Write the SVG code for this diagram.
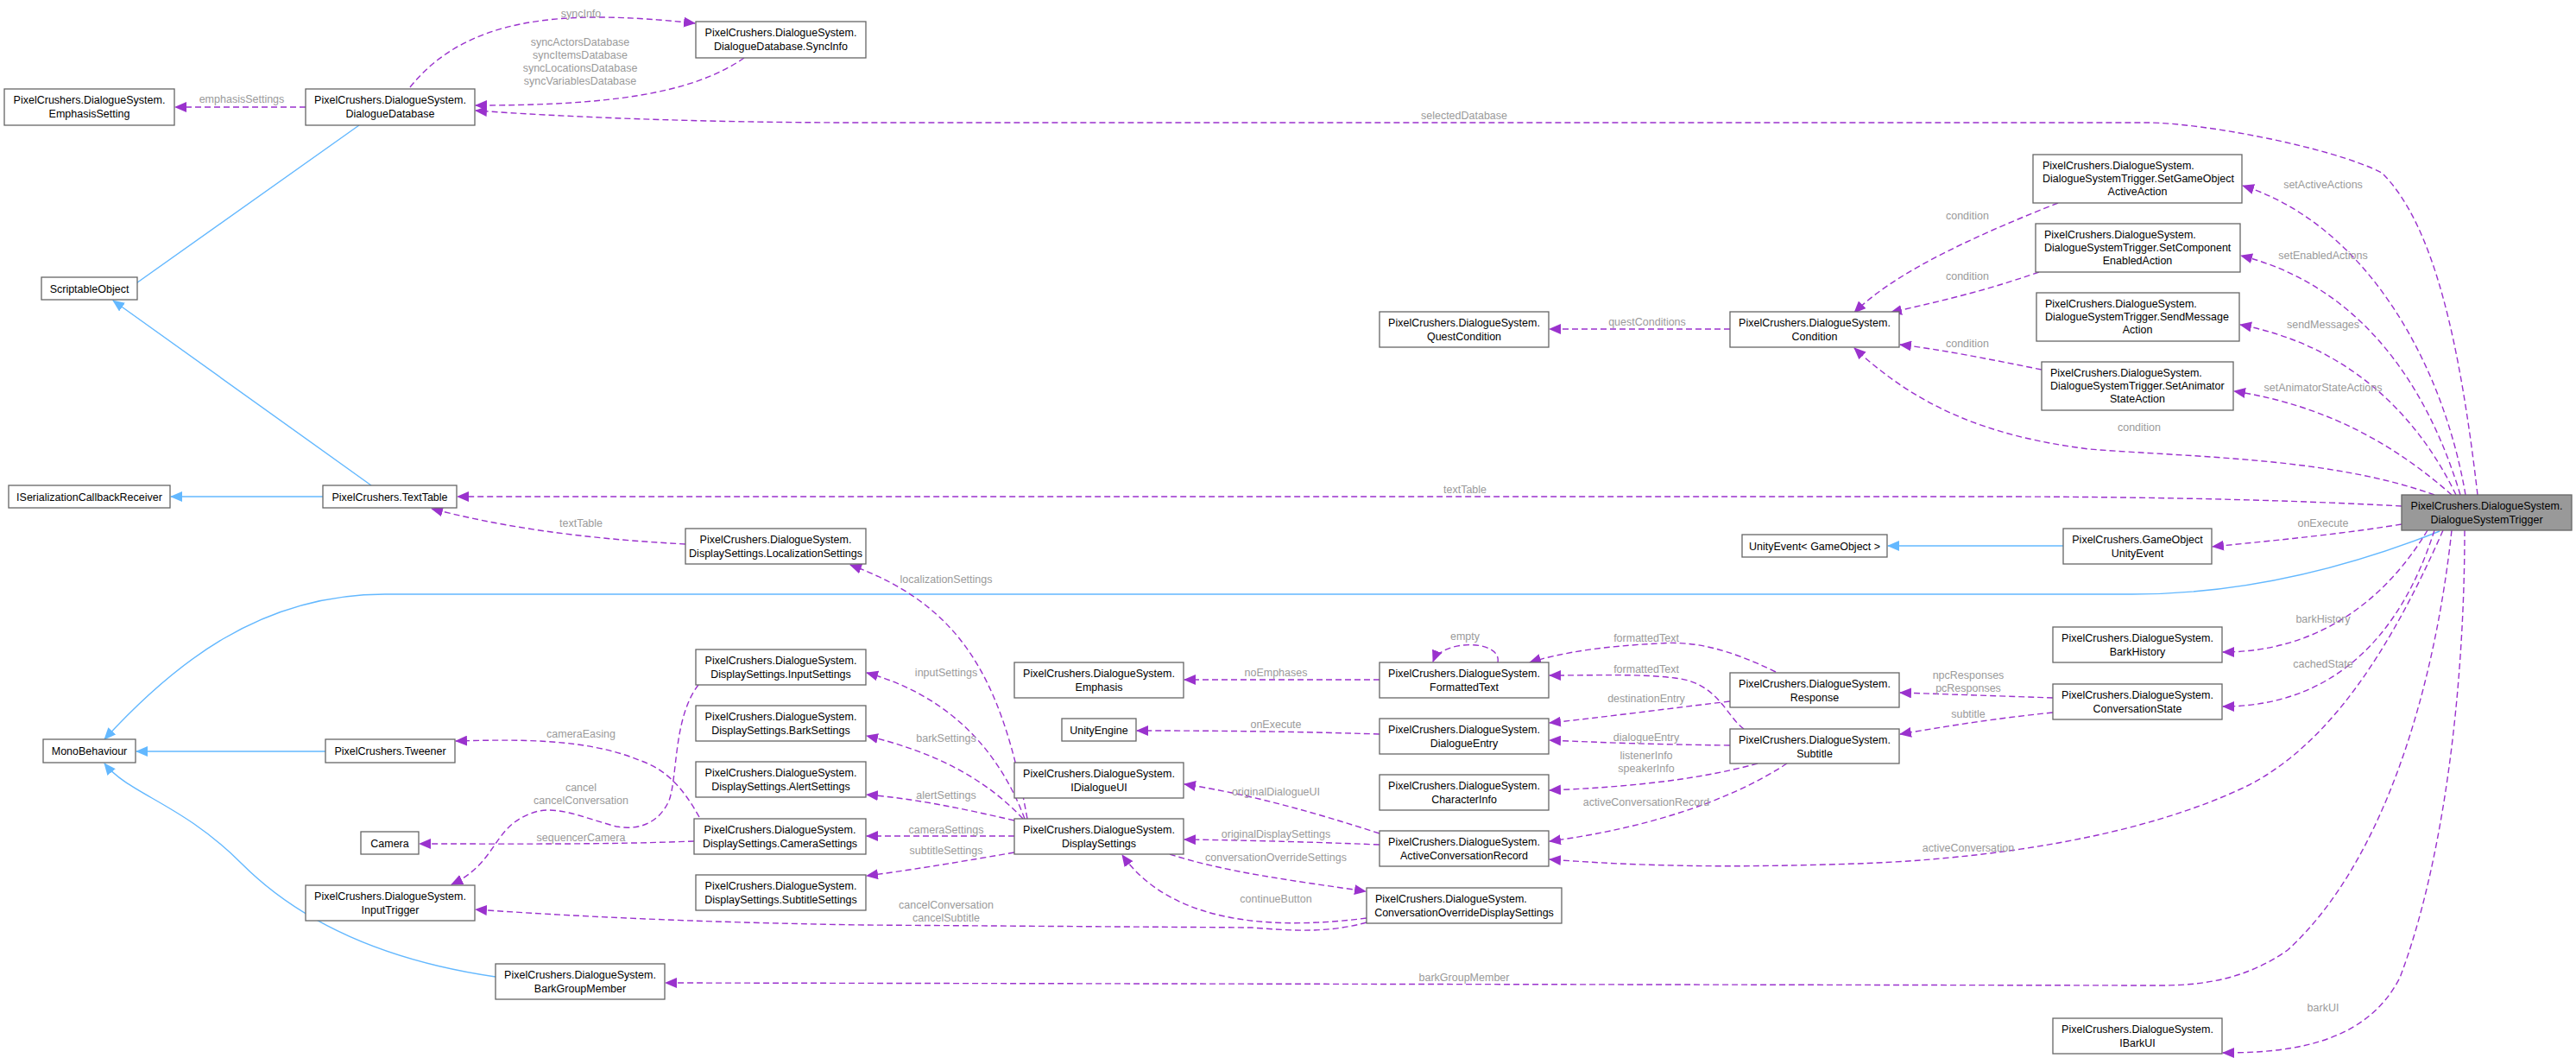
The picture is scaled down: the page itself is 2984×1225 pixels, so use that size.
<svg xmlns="http://www.w3.org/2000/svg" width="2984" height="1225" viewBox="0 0 2984 1225">
<style>
.n rect{fill:#fff;stroke:#666;stroke-width:1.3}
.n text{font-family:"Liberation Sans",Arial,sans-serif;font-size:12.5px;fill:#000}
.c{text-anchor:middle}
.e{fill:none;stroke:#9a32cd;stroke-width:1.4;stroke-dasharray:7,4}
.i{fill:none;stroke:#63b8ff;stroke-width:1.4}
.l{font-family:"Liberation Sans",Arial,sans-serif;font-size:12.5px;fill:#9a9a9a;text-anchor:middle}
</style>
<defs>
<marker id="p" markerWidth="14" markerHeight="12" refX="13" refY="6" orient="auto" markerUnits="userSpaceOnUse"><path d="M0,0 L14,6 L0,12 z" fill="#9a32cd"/></marker>
<marker id="b" markerWidth="14" markerHeight="12" refX="13" refY="6" orient="auto" markerUnits="userSpaceOnUse"><path d="M0,0 L14,6 L0,12 z" fill="#63b8ff"/></marker>
</defs>
<rect width="2984" height="1225" fill="#fff"/>
<g id="edges">
<path class="i" marker-end="url(#b)" d="M416,145 L131,347"/>
<path class="i" marker-end="url(#b)" d="M430,562 L131,348"/>
<path class="i" marker-end="url(#b)" d="M374,575 L198,575"/>
<path class="i" marker-end="url(#b)" d="M377,870 L158,870"/>
<path class="i" marker-end="url(#b)" d="M574,1131 C430,1110 340,1060 280,1000 C210,930 150,920 121,884"/>
<path class="i" marker-end="url(#b)" d="M2826,615 C2700,665 2580,688 2470,688 L446,688 C300,688 200,770 121,856"/>
<path class="i" marker-end="url(#b)" d="M2390,632 L2187,632"/>

<path class="e" marker-end="url(#p)" d="M354,124 L203,124"/>
<text class="l" x="280" y="119">emphasisSettings</text>
<path class="e" marker-end="url(#p)" d="M475,101 C540,20 650,10 805,27"/>
<text class="l" x="673" y="20">syncInfo</text>
<path class="e" marker-end="url(#p)" d="M862,67 C800,110 700,122 551,122"/>
<text class="l" x="672" y="53">syncActorsDatabase</text>
<text class="l" x="672" y="68">syncItemsDatabase</text>
<text class="l" x="672" y="83">syncLocationsDatabase</text>
<text class="l" x="672" y="98">syncVariablesDatabase</text>
<path class="e" marker-end="url(#p)" d="M2870,573 C2850,400 2820,260 2759,200 C2700,170 2550,142 2487,142 L1000,142 C800,142 650,135 551,128"/>
<text class="l" x="1696" y="138">selectedDatabase</text>
<path class="e" marker-end="url(#p)" d="M2856,573 C2830,420 2740,260 2598,215"/>
<text class="l" x="2691" y="218">setActiveActions</text>
<path class="e" marker-end="url(#p)" d="M2850,573 C2810,440 2730,330 2596,296"/>
<text class="l" x="2691" y="300">setEnabledActions</text>
<path class="e" marker-end="url(#p)" d="M2845,573 C2800,480 2720,400 2595,376"/>
<text class="l" x="2691" y="380">sendMessages</text>
<path class="e" marker-end="url(#p)" d="M2840,573 C2780,520 2700,470 2588,453"/>
<text class="l" x="2691" y="453">setAnimatorStateActions</text>
<path class="e" marker-end="url(#p)" d="M2820,573 C2700,530 2550,530 2420,520 C2300,505 2220,470 2148,403"/>
<text class="l" x="2478" y="499">condition</text>
<path class="e" marker-end="url(#p)" d="M2384,235 C2270,280 2190,320 2148,362"/>
<text class="l" x="2279" y="254">condition</text>
<path class="e" marker-end="url(#p)" d="M2362,315 C2290,340 2240,350 2190,362"/>
<text class="l" x="2279" y="324">condition</text>
<path class="e" marker-end="url(#p)" d="M2365,428 C2300,415 2250,405 2201,399"/>
<text class="l" x="2279" y="402">condition</text>
<path class="e" marker-end="url(#p)" d="M2004,381 L1795,381"/>
<text class="l" x="1908" y="377">questConditions</text>
<path class="e" marker-end="url(#p)" d="M2782,586 C2600,576 2400,575 2300,575 L530,575"/>
<text class="l" x="1697" y="571">textTable</text>
<path class="e" marker-end="url(#p)" d="M794,630 C700,625 600,615 500,589"/>
<text class="l" x="673" y="610">textTable</text>
<path class="e" marker-end="url(#p)" d="M2782,607 C2700,620 2640,625 2563,633"/>
<text class="l" x="2691" y="610">onExecute</text>
<path class="e" marker-end="url(#p)" d="M1190,948 C1160,780 1110,700 985,654"/>
<text class="l" x="1096" y="675">localizationSettings</text>
<path class="e" marker-end="url(#p)" d="M1187,948 C1150,850 1080,800 1004,779"/>
<text class="l" x="1096" y="783">inputSettings</text>
<path class="e" marker-end="url(#p)" d="M1185,948 C1140,900 1080,870 1004,852"/>
<text class="l" x="1096" y="859">barkSettings</text>
<path class="e" marker-end="url(#p)" d="M1175,950 C1110,935 1060,925 1004,920"/>
<text class="l" x="1096" y="925">alertSettings</text>
<path class="e" marker-end="url(#p)" d="M1175,968 L1004,968"/>
<text class="l" x="1096" y="965">cameraSettings</text>
<path class="e" marker-end="url(#p)" d="M1175,987 C1100,1000 1050,1008 1004,1014"/>
<text class="l" x="1096" y="989">subtitleSettings</text>
<path class="e" marker-end="url(#p)" d="M810,946 C790,910 770,890 740,880 C680,855 600,856 528,858"/>
<text class="l" x="673" y="854">cameraEasing</text>
<path class="e" marker-end="url(#p)" d="M804,974 C700,978 600,977 486,977"/>
<text class="l" x="673" y="974">sequencerCamera</text>
<path class="e" marker-end="url(#p)" d="M809,793 C780,830 785,900 775,927 C760,960 730,960 714,957 C670,945 640,930 612,943 C570,960 575,1000 523,1024"/>
<text class="l" x="673" y="916">cancel</text>
<text class="l" x="673" y="931">cancelConversation</text>
<path class="e" marker-end="url(#p)" d="M1583,1068 C1540,1080 1500,1078 1450,1074 L1000,1071 C800,1068 650,1060 551,1053"/>
<text class="l" x="1096" y="1052">cancelConversation</text>
<text class="l" x="1096" y="1067">cancelSubtitle</text>
<path class="e" marker-end="url(#p)" d="M1598,965 C1520,940 1450,920 1372,908"/>
<text class="l" x="1478" y="921">originalDialogueUI</text>
<path class="e" marker-end="url(#p)" d="M1598,978 C1520,975 1450,973 1372,972"/>
<text class="l" x="1478" y="970">originalDisplaySettings</text>
<path class="e" marker-end="url(#p)" d="M1355,989 C1420,1010 1500,1020 1582,1032"/>
<text class="l" x="1478" y="997">conversationOverrideSettings</text>
<path class="e" marker-end="url(#p)" d="M1583,1063 C1450,1080 1350,1060 1300,990"/>
<text class="l" x="1478" y="1045">continueButton</text>
<path class="e" marker-end="url(#p)" d="M1598,787 L1372,787"/>
<text class="l" x="1478" y="783">noEmphases</text>
<path class="e" marker-end="url(#p)" d="M1598,850 C1500,847 1420,846 1317,846"/>
<text class="l" x="1478" y="843">onExecute</text>
<path class="e" marker-end="url(#p)" d="M1735,767 C1740,740 1670,740 1660,766"/>
<text class="l" x="1697" y="741">empty</text>
<path class="e" marker-end="url(#p)" d="M2057,778 C2000,750 1960,742 1922,745 C1860,748 1810,755 1772,767"/>
<text class="l" x="1907" y="743">formattedText</text>
<path class="e" marker-end="url(#p)" d="M2020,844 C2000,830 1990,790 1940,785 C1900,780 1850,782 1795,782"/>
<text class="l" x="1907" y="779">formattedText</text>
<path class="e" marker-end="url(#p)" d="M2004,812 C1920,822 1860,830 1795,837"/>
<text class="l" x="1907" y="813">destinationEntry</text>
<path class="e" marker-end="url(#p)" d="M2004,863 C1920,862 1860,860 1795,857"/>
<text class="l" x="1907" y="858">dialogueEntry</text>
<path class="e" marker-end="url(#p)" d="M2036,884 C1960,905 1870,912 1795,915"/>
<text class="l" x="1907" y="879">listenerInfo</text>
<text class="l" x="1907" y="894">speakerInfo</text>
<path class="e" marker-end="url(#p)" d="M2070,884 C2000,930 1900,960 1795,974"/>
<text class="l" x="1907" y="933">activeConversationRecord</text>
<path class="e" marker-end="url(#p)" d="M2378,808 C2320,806 2260,804 2201,802"/>
<text class="l" x="2280" y="786">npcResponses</text>
<text class="l" x="2280" y="801">pcResponses</text>
<path class="e" marker-end="url(#p)" d="M2378,825 C2310,832 2260,840 2201,850"/>
<text class="l" x="2280" y="831">subtitle</text>
<path class="e" marker-end="url(#p)" d="M2830,614 C2770,750 2700,860 2605,909 C2480,970 2300,995 2150,1000 C2000,1005 1900,1003 1795,995"/>
<text class="l" x="2280" y="986">activeConversation</text>
<path class="e" marker-end="url(#p)" d="M2812,614 C2760,700 2680,755 2575,755"/>
<text class="l" x="2691" y="721">barkHistory</text>
<path class="e" marker-end="url(#p)" d="M2820,614 C2780,740 2700,818 2575,818"/>
<text class="l" x="2691" y="773">cachedState</text>
<path class="e" marker-end="url(#p)" d="M2840,614 C2820,800 2760,1000 2650,1100 C2600,1135 2550,1141 2500,1141 L771,1138"/>
<text class="l" x="1696" y="1136">barkGroupMember</text>
<path class="e" marker-end="url(#p)" d="M2855,614 C2855,800 2830,1000 2780,1132 C2740,1210 2650,1219 2575,1219"/>
<text class="l" x="2691" y="1171">barkUI</text>
</g>

<g id="n1" class="n"><rect x="5" y="103" width="197" height="42"/><text class="c" x="103.5" y="120">PixelCrushers.DialogueSystem.</text><text class="c" x="103.5" y="136">EmphasisSetting</text></g>
<g id="n2" class="n"><rect x="354" y="103" width="196" height="42"/><text class="c" x="452" y="120">PixelCrushers.DialogueSystem.</text><text class="c" x="452" y="136">DialogueDatabase</text></g>
<g id="n3" class="n"><rect x="806" y="25" width="197" height="42"/><text class="c" x="904.5" y="42">PixelCrushers.DialogueSystem.</text><text class="c" x="904.5" y="58">DialogueDatabase.SyncInfo</text></g>
<g id="n4" class="n"><rect x="48" y="321" width="111" height="26"/><text class="c" x="103.5" y="339">ScriptableObject</text></g>
<g id="n5" class="n"><rect x="10" y="562" width="187" height="26"/><text class="c" x="103.5" y="580">ISerializationCallbackReceiver</text></g>
<g id="n6" class="n"><rect x="374" y="562" width="155" height="26"/><text class="c" x="451.5" y="580">PixelCrushers.TextTable</text></g>
<g id="n7" class="n"><rect x="794" y="612" width="209" height="41"/><text class="c" x="898.5" y="629">PixelCrushers.DialogueSystem.</text><text class="c" x="898.5" y="645">DisplaySettings.LocalizationSettings</text></g>
<g id="n8" class="n"><rect x="50" y="856" width="107" height="27"/><text class="c" x="103.5" y="874">MonoBehaviour</text></g>
<g id="n9" class="n"><rect x="377" y="856" width="150" height="27"/><text class="c" x="452" y="874">PixelCrushers.Tweener</text></g>
<g id="n10" class="n"><rect x="806" y="752" width="197" height="41"/><text class="c" x="904.5" y="769">PixelCrushers.DialogueSystem.</text><text class="c" x="904.5" y="785">DisplaySettings.InputSettings</text></g>
<g id="n11" class="n"><rect x="806" y="817" width="197" height="41"/><text class="c" x="904.5" y="834">PixelCrushers.DialogueSystem.</text><text class="c" x="904.5" y="850">DisplaySettings.BarkSettings</text></g>
<g id="n12" class="n"><rect x="806" y="882" width="197" height="41"/><text class="c" x="904.5" y="899">PixelCrushers.DialogueSystem.</text><text class="c" x="904.5" y="915">DisplaySettings.AlertSettings</text></g>
<g id="n13" class="n"><rect x="804" y="948" width="199" height="41"/><text class="c" x="903.5" y="965">PixelCrushers.DialogueSystem.</text><text class="c" x="903.5" y="981">DisplaySettings.CameraSettings</text></g>
<g id="n14" class="n"><rect x="806" y="1013" width="197" height="41"/><text class="c" x="904.5" y="1030">PixelCrushers.DialogueSystem.</text><text class="c" x="904.5" y="1046">DisplaySettings.SubtitleSettings</text></g>
<g id="n15" class="n"><rect x="418" y="963" width="67" height="26"/><text class="c" x="451.5" y="981">Camera</text></g>
<g id="n16" class="n"><rect x="354" y="1025" width="196" height="41"/><text class="c" x="452" y="1042">PixelCrushers.DialogueSystem.</text><text class="c" x="452" y="1058">InputTrigger</text></g>
<g id="n17" class="n"><rect x="574" y="1116" width="196" height="41"/><text class="c" x="672" y="1133">PixelCrushers.DialogueSystem.</text><text class="c" x="672" y="1149">BarkGroupMember</text></g>
<g id="n18" class="n"><rect x="1175" y="767" width="196" height="41"/><text class="c" x="1273" y="784">PixelCrushers.DialogueSystem.</text><text class="c" x="1273" y="800">Emphasis</text></g>
<g id="n19" class="n"><rect x="1230" y="832" width="86" height="26"/><text class="c" x="1273" y="850">UnityEngine</text></g>
<g id="n20" class="n"><rect x="1175" y="883" width="196" height="41"/><text class="c" x="1273" y="900">PixelCrushers.DialogueSystem.</text><text class="c" x="1273" y="916">IDialogueUI</text></g>
<g id="n21" class="n"><rect x="1175" y="948" width="196" height="41"/><text class="c" x="1273" y="965">PixelCrushers.DialogueSystem.</text><text class="c" x="1273" y="981">DisplaySettings</text></g>
<g id="n22" class="n"><rect x="1598" y="767" width="196" height="41"/><text class="c" x="1696" y="784">PixelCrushers.DialogueSystem.</text><text class="c" x="1696" y="800">FormattedText</text></g>
<g id="n23" class="n"><rect x="1598" y="832" width="196" height="41"/><text class="c" x="1696" y="849">PixelCrushers.DialogueSystem.</text><text class="c" x="1696" y="865">DialogueEntry</text></g>
<g id="n24" class="n"><rect x="1598" y="897" width="196" height="41"/><text class="c" x="1696" y="914">PixelCrushers.DialogueSystem.</text><text class="c" x="1696" y="930">CharacterInfo</text></g>
<g id="n25" class="n"><rect x="1598" y="962" width="196" height="41"/><text class="c" x="1696" y="979">PixelCrushers.DialogueSystem.</text><text class="c" x="1696" y="995">ActiveConversationRecord</text></g>
<g id="n26" class="n"><rect x="1583" y="1028" width="226" height="41"/><text x="1593" y="1045">PixelCrushers.DialogueSystem.</text><text class="c" x="1696" y="1061">ConversationOverrideDisplaySettings</text></g>
<g id="n27" class="n"><rect x="2004" y="779" width="196" height="40"/><text class="c" x="2102" y="796">PixelCrushers.DialogueSystem.</text><text class="c" x="2102" y="812">Response</text></g>
<g id="n28" class="n"><rect x="2004" y="844" width="196" height="40"/><text class="c" x="2102" y="861">PixelCrushers.DialogueSystem.</text><text class="c" x="2102" y="877">Subtitle</text></g>
<g id="n29" class="n"><rect x="1598" y="361" width="196" height="41"/><text class="c" x="1696" y="378">PixelCrushers.DialogueSystem.</text><text class="c" x="1696" y="394">QuestCondition</text></g>
<g id="n30" class="n"><rect x="2004" y="361" width="196" height="41"/><text class="c" x="2102" y="378">PixelCrushers.DialogueSystem.</text><text class="c" x="2102" y="394">Condition</text></g>
<g id="n31" class="n"><rect x="2355" y="179" width="242" height="56"/><text x="2366" y="196">PixelCrushers.DialogueSystem.</text><text x="2366" y="211">DialogueSystemTrigger.SetGameObject</text><text class="c" x="2476" y="226">ActiveAction</text></g>
<g id="n32" class="n"><rect x="2358" y="259" width="237" height="56"/><text x="2368" y="276">PixelCrushers.DialogueSystem.</text><text x="2368" y="291">DialogueSystemTrigger.SetComponent</text><text class="c" x="2476" y="306">EnabledAction</text></g>
<g id="n33" class="n"><rect x="2359" y="339" width="235" height="56"/><text x="2369" y="356">PixelCrushers.DialogueSystem.</text><text x="2369" y="371">DialogueSystemTrigger.SendMessage</text><text class="c" x="2476" y="386">Action</text></g>
<g id="n34" class="n"><rect x="2365" y="419" width="222" height="56"/><text x="2375" y="436">PixelCrushers.DialogueSystem.</text><text x="2375" y="451">DialogueSystemTrigger.SetAnimator</text><text class="c" x="2476" y="466">StateAction</text></g>
<g id="n35" class="n"><rect x="2018" y="619" width="168" height="26"/><text class="c" x="2102" y="637">UnityEvent&lt; GameObject &gt;</text></g>
<g id="n36" class="n"><rect x="2390" y="612" width="172" height="41"/><text class="c" x="2476" y="629">PixelCrushers.GameObject</text><text class="c" x="2476" y="645">UnityEvent</text></g>
<g id="n37" class="n"><rect x="2782" y="573" width="197" height="41" style="fill:#999"/><text class="c" x="2880.5" y="590">PixelCrushers.DialogueSystem.</text><text class="c" x="2880.5" y="606">DialogueSystemTrigger</text></g>
<g id="n38" class="n"><rect x="2378" y="726" width="196" height="41"/><text class="c" x="2476" y="743">PixelCrushers.DialogueSystem.</text><text class="c" x="2476" y="759">BarkHistory</text></g>
<g id="n39" class="n"><rect x="2378" y="792" width="196" height="41"/><text class="c" x="2476" y="809">PixelCrushers.DialogueSystem.</text><text class="c" x="2476" y="825">ConversationState</text></g>
<g id="n40" class="n"><rect x="2378" y="1179" width="196" height="41"/><text class="c" x="2476" y="1196">PixelCrushers.DialogueSystem.</text><text class="c" x="2476" y="1212">IBarkUI</text></g>
</svg>
